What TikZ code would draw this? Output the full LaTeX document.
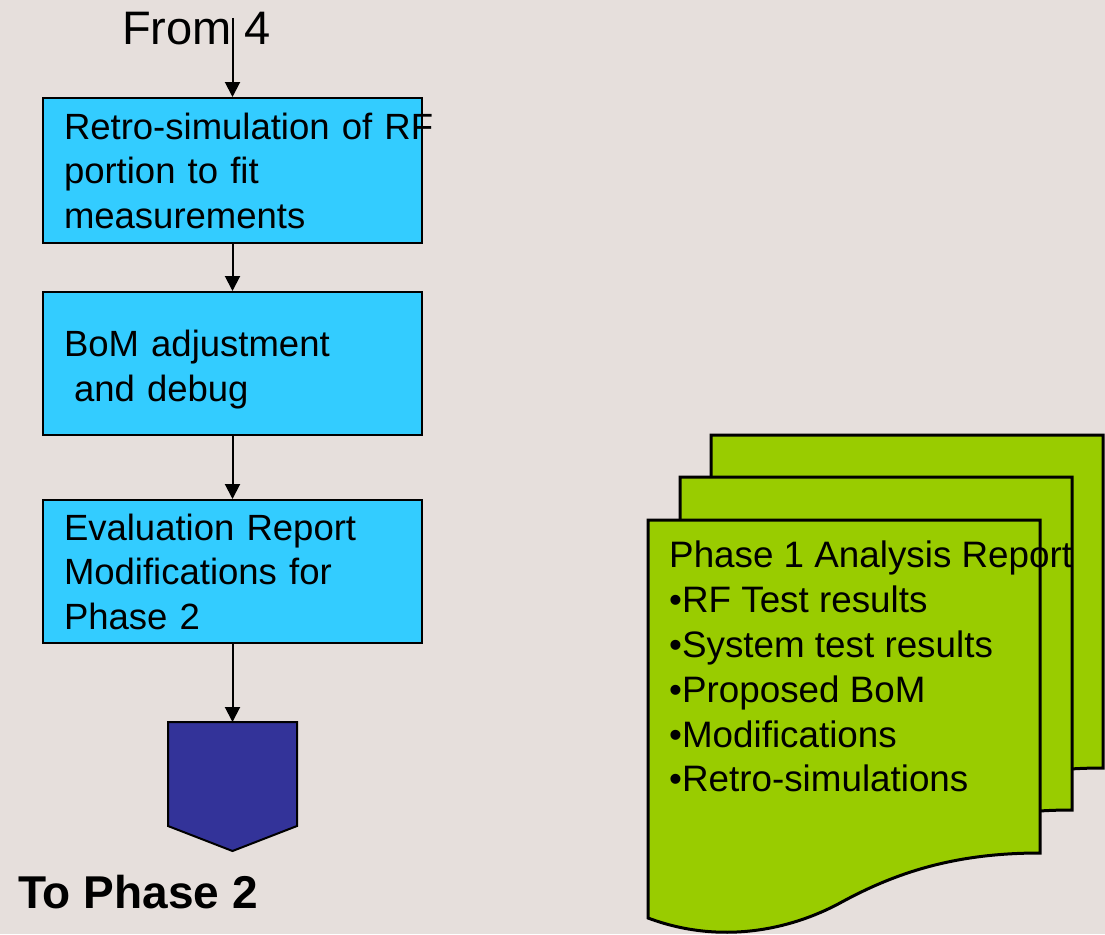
\documentclass[tikz,border=0pt]{standalone}
\usepackage{fontspec}
\setmainfont{Liberation Sans}
\usetikzlibrary{arrows.meta}
\definecolor{bgcol}{HTML}{E6DFDC}
\definecolor{boxcyan}{HTML}{33CCFF}
\definecolor{offblue}{HTML}{333399}
\definecolor{docgreen}{HTML}{99CC00}

\begin{document}
\begin{tikzpicture}[x=1pt,y=-1pt,
	stepbox/.style={draw=black,line width=2pt,fill=boxcyan,minimum width=379pt,minimum height=143pt,
		text width=337pt,inner xsep=21pt,align=left,font=\fontsize{36.5}{44.5}\selectfont},
	flow/.style={line width=2pt,-{Triangle[width=15pt,length=15pt]}},
	page/.style={draw=black,line width=3pt,fill=docgreen}]
	\fill[bgcol] (0,0) rectangle (1105,934);
	\useasboundingbox (0,0) rectangle (1105,934);
	\node[stepbox,minimum height=145pt] (retro) at (232.5,170.5) {\mbox{Retro-simulation of RF}\\portion to fit\\measurements};
	\node[stepbox,text depth=40pt] (bom) at (232.5,363.5) {BoM adjustment\\\hspace*{10pt}and debug};
	\node[stepbox] (eval) at (232.5,571.5) {Evaluation Report\\Modifications for\\Phase 2};
	\node[anchor=base west,inner sep=0,font=\fontsize{47}{50}\selectfont] (from) at (122,45) {From 4};
	\coordinate (fromtop) at (232.5,18);
	\draw[line width=2pt,fill=offblue] (168,722) -- (297,722) -- (297,826) -- (232.5,851) -- (168,826) -- cycle;
	\coordinate (offtop) at (232.5,722);
	\node[anchor=base west,inner sep=0,font=\fontsize{46}{50}\selectfont\bfseries] (to) at (18,908) {To Phase 2};
	\draw[flow] (fromtop) -- (retro.north);
	\draw[flow] (retro) -- (bom);
	\draw[flow] (bom) -- (eval);
	\draw[flow] (eval) -- (offtop);
	\foreach \dx/\dy in {63/-85,32/-43,0/0}
		\draw[page,shift={(\dx,\dy)}] (648,520) -- (1040,520) -- (1040,853)
			.. controls (960,853) and (900,870) .. (840,903)
			.. controls (790,930) and (720,945) .. (648,918) -- cycle;
	\node[anchor=north west,inner sep=0,align=left,font=\fontsize{36.8}{44.8}\selectfont] (report) at (669,541)
		{Phase 1 Analysis Report\\•RF Test results\\•System test results\\•Proposed BoM\\•Modifications\\•Retro-simulations};
\end{tikzpicture}
\end{document}
